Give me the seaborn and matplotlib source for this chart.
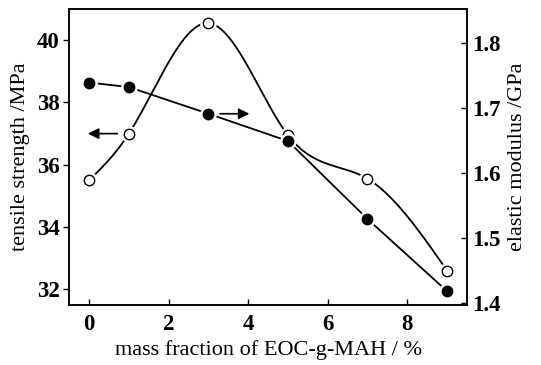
import numpy as np
import pandas as pd
import seaborn as sns
import matplotlib
matplotlib.use("Agg")
import matplotlib.pyplot as plt

# data
mass_fraction = [0, 1, 3, 5, 7, 9]
tensile_strength = [35.5, 37.0, 40.55, 36.95, 35.55, 32.6]
elastic_modulus = [1.739, 1.732, 1.691, 1.649, 1.529, 1.418]
x_ticks = [0, 2, 4, 6, 8]
left_ticks = [32, 34, 36, 38, 40]
right_ticks = [1.4, 1.5, 1.6, 1.7, 1.8]

sns.set_style("ticks")
plt.rcParams['font.family'] = ['Liberation Serif', 'DejaVu Serif']
plt.rcParams['text.color'] = 'black'
plt.rcParams['axes.labelcolor'] = 'black'
plt.rcParams['xtick.color'] = 'black'
plt.rcParams['ytick.color'] = 'black'


def natural_spline(x, y, n=300):
    x = np.asarray(x, float); y = np.asarray(y, float)
    k = len(x); h = np.diff(x)
    A = np.zeros((k, k)); b = np.zeros(k)
    A[0, 0] = A[-1, -1] = 1
    for i in range(1, k - 1):
        A[i, i - 1] = h[i - 1]; A[i, i] = 2 * (h[i - 1] + h[i]); A[i, i + 1] = h[i]
        b[i] = 6 * ((y[i + 1] - y[i]) / h[i] - (y[i] - y[i - 1]) / h[i - 1])
    M = np.linalg.solve(A, b)
    xs = np.linspace(x[0], x[-1], n)
    idx = np.clip(np.searchsorted(x, xs) - 1, 0, k - 2)
    x0, x1 = x[idx], x[idx + 1]; hh = x1 - x0
    ys = (M[idx] * (x1 - xs) ** 3 / (6 * hh) + M[idx + 1] * (xs - x0) ** 3 / (6 * hh)
          + (y[idx] / hh - M[idx] * hh / 6) * (x1 - xs)
          + (y[idx + 1] / hh - M[idx + 1] * hh / 6) * (xs - x0))
    return xs, ys


fig, ax = plt.subplots(figsize=(5.41, 3.65), dpi=100)
fig.subplots_adjust(left=0.128, right=0.863, top=0.975, bottom=0.165)
ax2 = ax.twinx()

xs, ys = natural_spline(mass_fraction, tensile_strength)
sm = pd.DataFrame({"x": xs, "y": ys})
sns.lineplot(data=sm, x="x", y="y", ax=ax, color="black", lw=1.3, sort=False)
ax.plot(mass_fraction, tensile_strength, 'o', ms=11, mfc='white', mec='white', zorder=3)
ax.plot(mass_fraction, tensile_strength, 'o', ms=7.5, mfc='white', mec='black', mew=1.0, zorder=4)

df2 = pd.DataFrame({"x": mass_fraction, "y": elastic_modulus})
sns.lineplot(data=df2, x="x", y="y", ax=ax2, color="black", lw=1.3)
ax2.plot(mass_fraction, elastic_modulus, 'o', ms=11, mfc='white', mec='white', zorder=3)
ax2.plot(mass_fraction, elastic_modulus, 'o', ms=7.5, mfc='black', mec='black', zorder=4)

ax.annotate("", xy=(-0.1, tensile_strength[1]), xytext=(0.78, tensile_strength[1]),
            arrowprops=dict(arrowstyle="-|>", color="black", lw=1.2, mutation_scale=16))
ax2.annotate("", xy=(4.1, elastic_modulus[2]), xytext=(3.22, elastic_modulus[2]),
             arrowprops=dict(arrowstyle="-|>", color="black", lw=1.2, mutation_scale=16))

ax.set_xlim(-0.5, 9.5)
ax.set_ylim(31.5, 41.0)
ax2.set_ylim(1.397, 1.852)
ax.set_xticks(x_ticks)
ax.set_yticks(left_ticks)
ax2.set_yticks(right_ticks)
ax.set_xticklabels([str(v) for v in x_ticks], fontweight='bold', fontsize=16.5)
ax.set_yticklabels([str(v) for v in left_ticks], fontweight='bold', fontsize=16.5)
ax2.set_yticklabels([f"{v:.1f}" for v in right_ticks], fontweight='bold', fontsize=16.5)
ax.tick_params(axis='x', direction='in', length=4, width=1, pad=7, colors='black')
ax.tick_params(axis='y', direction='out', length=4, width=1, pad=3, colors='black')
ax2.tick_params(axis='y', direction='in', length=4, width=1, pad=4, colors='black')
for a in (ax, ax2):
    for s in a.spines.values():
        s.set_visible(True)
        s.set_linewidth(1.1)
        s.set_color('black')

ax.set_xlabel("mass fraction of EOC-g-MAH / %", fontsize=16, labelpad=3, color='black')
ax.set_ylabel("tensile strength /MPa", fontsize=16, labelpad=5, color='black')
ax2.set_ylabel("elastic modulus /GPa", fontsize=16, labelpad=5, color='black')

fig.savefig("out.png", dpi=100)
